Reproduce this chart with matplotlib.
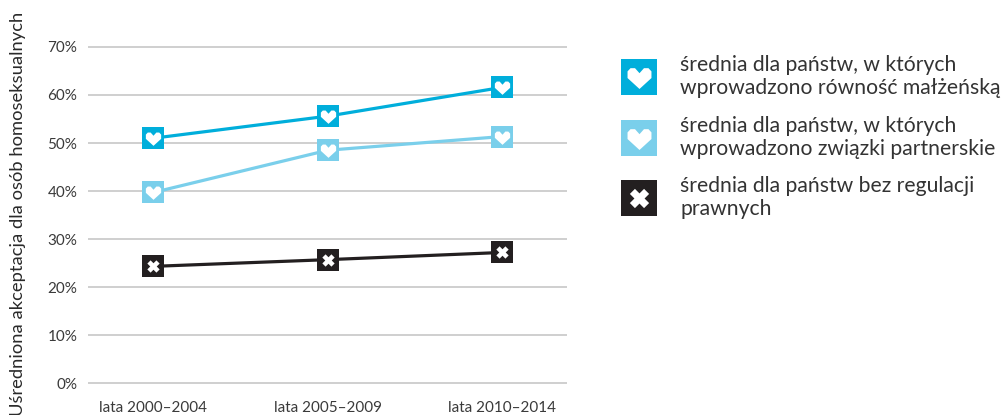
import numpy as np
import matplotlib
matplotlib.use("Agg")
import matplotlib.pyplot as plt
from matplotlib.path import Path
from matplotlib.lines import Line2D
from matplotlib.legend_handler import HandlerTuple

plt.rcParams['font.family'] = ['Lato', 'DejaVu Sans']

# ---- data ----
categories = ["lata 2000–2004", "lata 2005–2009", "lata 2010–2014"]
marriage = [51.0, 55.6, 61.6]
partnership = [39.7, 48.5, 51.35]
no_regulation = [24.3, 25.7, 27.2]
series_labels = [
    "średnia dla państw, w których\nwprowadzono równość małżeńską",
    "średnia dla państw, w których\nwprowadzono związki partnerskie",
    "średnia dla państw bez regulacji\nprawnych",
]
yticks = [0, 10, 20, 30, 40, 50, 60, 70]
ylabel = "Uśredniona akceptacja dla osób homoseksualnych"

c_dark = "#00AEDB"
c_light = "#7ACFEB"
c_black = "#231F20"

# glyph paths in units of square half-side
heart_v = np.array([(-0.667, 0.34), (-0.5, 0.52), (-0.25, 0.52), (0.0, 0.24),
                    (0.25, 0.52), (0.5, 0.52), (0.667, 0.34), (0.667, -0.03),
                    (0.0, -0.64), (-0.667, -0.03), (-0.667, 0.34)])
heart = Path(heart_v, closed=True)
t, L = 0.2, 0.56
plus = np.array([(L, t), (t, t), (t, L), (-t, L), (-t, t), (-L, t), (-L, -t),
                 (-t, -t), (-t, -L), (t, -L), (t, -t), (L, -t), (L, t)])
rot = np.array([[np.cos(np.pi/4), -np.sin(np.pi/4)], [np.sin(np.pi/4), np.cos(np.pi/4)]])
xglyph_v = plus @ rot.T
xglyph = Path(xglyph_v, closed=True)

SQ = 16.5  # square marker size, points
heart_ms = SQ * np.max(np.abs(heart_v))
x_ms = SQ * np.max(np.abs(xglyph_v))

fig = plt.figure(figsize=(10.05, 4.15), dpi=100)
W, H = 1005, 415
left, right = 88, 567
top_px, bot_px = 47 - 4.8, 383 + 4.8
ax = fig.add_axes([left / W, (H - bot_px) / H, (right - left) / W, (bot_px - top_px) / H])

x = np.arange(len(categories))
handles = []
for vals, col, glyph, gms in [(marriage, c_dark, heart, heart_ms),
                              (partnership, c_light, heart, heart_ms),
                              (no_regulation, c_black, xglyph, x_ms)]:
    ln, = ax.plot(x, vals, color=col, lw=2.3, marker='s', markersize=SQ,
                  markerfacecolor=col, markeredgewidth=0, zorder=3, clip_on=False)
    gl, = ax.plot(x, vals, linestyle='none', marker=glyph, markersize=gms,
                  markerfacecolor='white', markeredgewidth=0, zorder=4, clip_on=False)
    sq_h = Line2D([], [], linestyle='none', marker='s', markersize=SQ,
                  markerfacecolor=col, markeredgewidth=0)
    gl_h = Line2D([], [], linestyle='none', marker=glyph, markersize=gms,
                  markerfacecolor='white', markeredgewidth=0)
    handles.append((sq_h, gl_h))

ax.set_xlim(-0.375, 2.37)
ax.set_ylim(-1, 71)
ax.set_yticks(yticks)
ax.set_yticklabels([f"{v}%" for v in yticks])
ax.set_xticks(x)
ax.set_xticklabels(categories)
ax.grid(axis='y', color='#CFCFCF', lw=1.4)
ax.set_axisbelow(True)
for s in ax.spines.values():
    s.set_visible(False)
ax.tick_params(axis='both', length=0, labelsize=11, colors='#3A3A3A')
ax.tick_params(axis='y', pad=7.8)
ax.tick_params(axis='x', pad=9.5)

fig.text(18 / W, 1 - 214 / H, ylabel, rotation=90, ha='center', va='center',
         fontsize=13.2, color='#2A2A2A')

leg = ax.legend(handles, series_labels, handler_map={tuple: HandlerTuple(ndivide=1, pad=0)},
                loc='upper left', bbox_to_anchor=(623 / W, 1 - 55 / H),
                bbox_transform=fig.transFigure, frameon=False, fontsize=15.2,
                markerscale=36 / 23, handlelength=1.5, handletextpad=1.2,
                labelspacing=0.82, borderpad=0, borderaxespad=0)
for txt in leg.get_texts():
    txt.set_color('#333333')
    txt.set_linespacing(1.2)

fig.savefig("out.png", dpi=100)
